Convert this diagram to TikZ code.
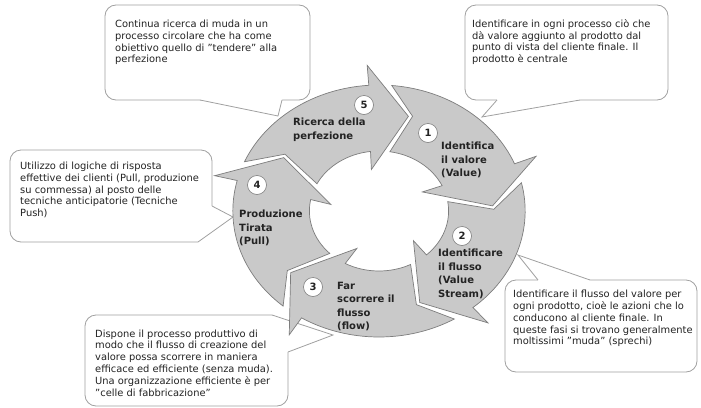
\documentclass[tikz,border=0pt]{standalone}
\usepackage{fontspec}
\setmainfont{DejaVu Sans}

\definecolor{ringgray}{RGB}{201,201,201}
\definecolor{ringedge}{RGB}{125,125,125}
\definecolor{noteedge}{RGB}{160,160,160}
\definecolor{inkgray}{RGB}{35,35,35}

\newcommand{\notefont}{\fontsize{9.9}{11.8}\selectfont}
\newcommand{\stepfont}{\fontsize{10}{13.5}\selectfont\bfseries}

\tikzset{
    ringarrow/.style={fill=ringgray, draw=ringedge, line width=0.7pt},
    badge/.style={circle, draw=ringedge, fill=white, line width=0.6pt, minimum size=19pt, inner sep=0pt, font=\stepfont, text=inkgray},
    steplabel/.style={anchor=west, align=left, inner sep=0pt, font=\stepfont, text=inkgray},
    note/.style={draw=noteedge, fill=white, line width=0.8pt, rounded corners=11pt},
    notewedge/.style={draw=noteedge, line width=0.8pt},
    notebody/.style={anchor=west, align=left, inner sep=0pt, font=\notefont, text=inkgray},
}

% one curved arrow of the cycle, #1 = angle of its tip
\newcommand{\cyclearrow}[1]{%
    \pgfmathsetmacro{\ta}{#1+82}%
    \pgfmathsetmacro{\tb}{#1+19}%
    \pgfmathsetmacro{\tc}{#1+22}%
    \pgfmathsetmacro{\td}{#1+78}%
    \filldraw[ringarrow] (\ta:126pt) arc[start angle=\ta, end angle=\tb, radius=126pt]
        -- (\tb:146pt) -- (#1:98pt) -- ({#1+24}:42pt) -- (\tc:60pt)
        arc[start angle=\tc, end angle=\td, radius=60pt] -- ({#1+70}:99pt) -- cycle;
}

\begin{document}
\begin{tikzpicture}[x=1pt, y=-1pt]
    \useasboundingbox (0,0) rectangle (701,407);

    % Callout boxes
    \draw[note] (105,5) rectangle (310,100);
    \draw[note] (465,5) rectangle (668,100);
    \draw[note] (10,150) rectangle (212,242);
    \draw[note] (505,280) rectangle (697,372);
    \draw[note] (85,315) rectangle (288,406);

    % Pointer tips
    \coordinate (tip5) at (278,116);
    \coordinate (tip1) at (482,117);
    \coordinate (tip4) at (233,217);
    \coordinate (tip2) at (518,255);
    \coordinate (tip3) at (333,335);

    % Pointers
    \fill[white] (200,98.5) -- (200,100) -- (tip5) -- (282,100) -- (282,98.5) -- cycle;
    \draw[notewedge] (200,100) -- (tip5) -- (282,100);
    \fill[white] (497,98.5) -- (497,100) -- (tip1) -- (580,100) -- (580,98.5) -- cycle;
    \draw[notewedge] (497,100) -- (tip1) -- (580,100);
    \fill[white] (538,281.5) -- (538,280) -- (tip2) -- (590,280) -- (590,281.5) -- cycle;
    \draw[notewedge] (538,280) -- (tip2) -- (590,280);
    \fill[white] (198,206) rectangle (213.5,243.5);
    \fill[white] (212,206) -- (tip4) -- (198,242) -- cycle;
    \draw[notewedge] (212,206) -- (tip4) -- (198,242);
    \fill[white] (272,313.5) rectangle (289.5,352);
    \fill[white] (272,315) -- (tip3) -- (288,352) -- cycle;
    \draw[notewedge] (272,315) -- (tip3) -- (288,352);

    % Callout texts
    \node[notebody] (note5) at (115,42.5) {Continua ricerca di muda in un\\processo circolare che ha come\\obiettivo quello di "tendere" alla\\perfezione};
    \node[notebody] (note1) at (472,42) {Identificare in ogni processo ciò che\\dà valore aggiunto al prodotto dal\\punto di vista del cliente finale. Il\\prodotto è centrale};
    \node[notebody] (note4) at (20,190) {Utilizzo di logiche di risposta\\effettive dei clienti (Pull, produzione\\su commessa) al posto delle\\tecniche anticipatorie (Tecniche\\Push)};
    \node[notebody] (note2) at (513,318.5) {Identificare il flusso del valore per\\ogni prodotto, cioè le azioni che lo\\conducono al cliente finale. In\\queste fasi si trovano generalmente\\moltissimi "muda" (sprechi)};
    \node[notebody] (note3) at (95,363) {Dispone il processo produttivo di\\modo che il flusso di creazione del\\valore possa scorrere in maniera\\efficace ed efficiente (senza muda).\\Una organizzazione efficiente è per\\"celle di fabbricazione"};

    % Cycle
    \begin{scope}[shift={(379,211)}, xscale=1.16]
        \cyclearrow{75}
        \cyclearrow{3}
        \cyclearrow{-69}
        \cyclearrow{-141}
        \cyclearrow{147}
    \end{scope}

    % Numbers
    \node[badge] (b5) at (364,105) {5};
    \node[badge] (b1) at (428,133) {1};
    \node[badge] (b2) at (462,236) {2};
    \node[badge] (b3) at (313,287) {3};
    \node[badge] (b4) at (257,185) {4};

    % Step labels
    \node[steplabel] (s5) at (293,129.5) {Ricerca della\\perfezione};
    \node[steplabel] (s1) at (441,160) {Identifica\\il valore\\(Value)};
    \node[steplabel] (s2) at (438,274) {Identificare\\il flusso\\(Value\\Stream)};
    \node[steplabel] (s3) at (337,306.5) {Far\\scorrere il\\flusso\\(flow)};
    \node[steplabel] (s4) at (239,228) {Produzione\\Tirata\\(Pull)};
\end{tikzpicture}
\end{document}
